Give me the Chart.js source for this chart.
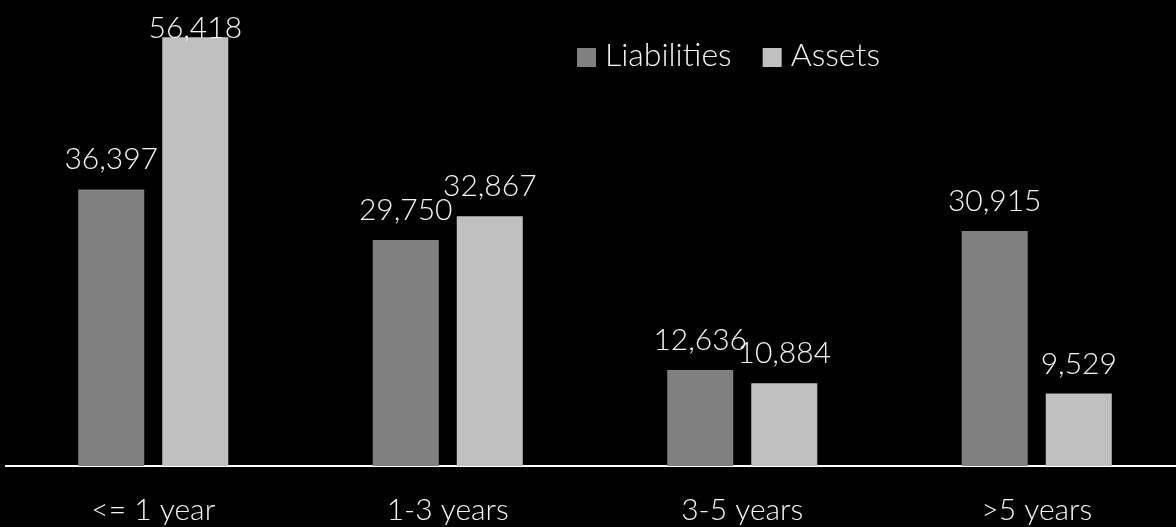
<!DOCTYPE html>
<html>
<head>
<meta charset="utf-8">
<script src="https://cdn.jsdelivr.net/npm/chart.js@4.4.1/dist/chart.umd.min.js"></script>
<style>
    html, body { margin: 0; padding: 0; background: #000; overflow: hidden; }
    .wrap { width: 1176px; height: 527px; overflow: hidden; }
</style>
</head>
<body>
<div class="wrap"><canvas id="myChart" width="1184" height="527"></canvas></div>
<script>
const categories = ['<= 1 year', '1-3 years', '3-5 years', '>5 years']
const liabilities = [36397, 29750, 12636, 30915]
const assets = [56418, 32867, 10884, 9529]
const seriesNames = ['Liabilities', 'Assets']
const seriesColors = ['#808080', '#c0c0c0']
const yMax = 60000

const FONT_FAMILY = 'Lato, "Open Sans", sans-serif'
const TEXT_COLOR = '#f4f4f4'

// values above the bars, pushed down when they would leave the top
const valueLabels = {
    id: 'valueLabels',
    afterDatasetsDraw(chart) {
        const ctx = chart.ctx
        ctx.save()
        ctx.font = `300 30px ${FONT_FAMILY}`
        ctx.fillStyle = TEXT_COLOR
        ctx.textAlign = 'center'
        ctx.textBaseline = 'alphabetic'
        chart.data.datasets.forEach((ds, i) => {
            chart.getDatasetMeta(i).data.forEach((bar, j) => {
                const text = ds.data[j].toLocaleString('en-US')
                const y = Math.max(bar.y - 20, chart.chartArea.top + 28)
                ctx.fillText(text, bar.x, y)
            })
        })
        ctx.restore()
    }
}

// legend sits over the plot, right of centre
const sideLegend = {
    id: 'sideLegend',
    afterDraw(chart) {
        const ctx = chart.ctx
        let x = 577
        const y = 66
        ctx.save()
        ctx.font = `300 32px ${FONT_FAMILY}`
        ctx.textBaseline = 'alphabetic'
        chart.data.datasets.forEach(ds => {
            ctx.fillStyle = ds.backgroundColor
            ctx.fillRect(x, y - 18, 19, 19)
            ctx.fillStyle = TEXT_COLOR
            ctx.fillText(ds.label, x + 28, y)
            x += 28 + ctx.measureText(ds.label).width + 31
        })
        ctx.restore()
    }
}

const ctx = document.getElementById('myChart')

new Chart(ctx, {
    type: 'bar',
    data: {
        labels: categories,
        datasets: [{
            label: seriesNames[0],
            data: liabilities,
            backgroundColor: seriesColors[0]
        }, {
            label: seriesNames[1],
            data: assets,
            backgroundColor: seriesColors[1]
        }]
    },
    options: {
        responsive: false,
        animation: false,
        devicePixelRatio: 1,
        categoryPercentage: 0.5707,
        barPercentage: 0.7857,
        layout: { padding: { left: 6, top: 10, right: 0, bottom: 0 } },
        plugins: {
            legend: { display: false },
            tooltip: { enabled: false }
        },
        scales: {
            x: {
                grid: { display: false, drawTicks: false },
                border: { display: true, color: '#ffffff', width: 2 },
                ticks: {
                    color: TEXT_COLOR,
                    padding: 26,
                    font: { family: FONT_FAMILY, size: 30, weight: 300 }
                },
                afterFit: scale => { scale.height = 61 }
            },
            y: {
                display: false,
                min: 0,
                max: yMax
            }
        }
    },
    plugins: [valueLabels, sideLegend]
})
</script>
</body>
</html>
